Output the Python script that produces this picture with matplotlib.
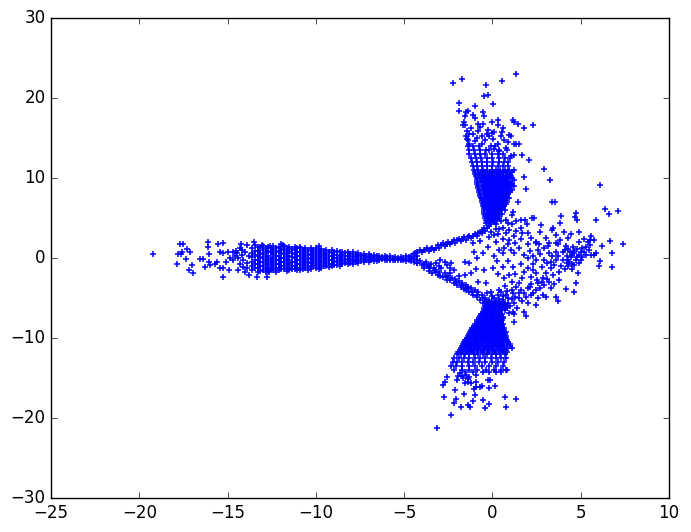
import matplotlib
matplotlib.use("Agg")
import matplotlib.pyplot as plt

# значения, оценка на глаз
# левый кончик: отдельные точки
left_tip = [
    (-19.2, .46), (-17.69, 1.75), (-17.54, 1.75), (-17.82, .5), (-17.6, .71), (-17.65, .46),
    (-17.27, 1.13), (-17.12, .79), (-17.37, -.13), (-17.84, -.75), (-17, -.88), (-17.16, -1.5),
    (-16.93, -1.92), (-16.56, -.13), (-16.4, -.13), (-16.09, 1.96), (-16.09, 1.42), (-16.05, .46),
    (-16.05, -.46), (-16, -.88), (-16.28, -1.17), (-15.54, 1.75), (-15.24, 1.83), (-15.43, .71),
    (-15.24, .58), (-15.58, -.46), (-15.71, -.75), (-15.43, -1.29), (-15.24, -1.29), (-15.24, -2.42),
    (-14.9, -1.5), (-14.96, .79), (-14.71, .79), (-15.09, -.46), (-14.86, -.04), (-14.49, .58),
    (-14.4, -.04), (-14.67, -.25), (-14.22, 1.75), (-13.92, 1.63), (-13.49, 2.04), (-13.45, 1.63),
    (-14.2, 1), (-14.1, -.25), (-13.92, -1.29), (-13.77, -2.13), (-13.32, -2.42), (-12.75, -2.33),
    (-12.64, -1.71), (-13.07, 1.63), (-12.6, 1.54), (-11.85, 1.63), (-10.9, 1.42), (-9.83, 1.5),
    (-14.5, .9), (-14.3, -.7), (-14.6, .3), (-14.2, .4), (-14, .7), (-13.9, -.6), (-14.1, -1.1),
    (-14.4, -1.5), (-14.0, -1.8), (-13.8, .2), (-14.3, 1.3),
]

# левое плечо: столбцы (x, значения y)
left_body = [
    (-13.6, [1.2, .6, .1, -.5, -1.0, -1.5]), (-13.45, [.9, .35, -.2, -.75, -1.25]),
    (-13.3, [1.4, .9, .3, -.2, -.8, -1.3, -1.7]), (-13.15, [1.2, .65, .1, -.5, -1.05, -1.6]),
    (-13.0, [1.5, 1.0, .5, 0, -.5, -1.0, -1.5]), (-12.85, [1.2, .75, .25, -.25, -.75, -1.25, -1.7]),
    (-12.7, [1.4, .9, .3, -.2, -.7, -1.2, -1.6]), (-12.55, [1.25, .7, .05, -.45, -.95, -1.4]),
    (-12.4, [1.5, 1.0, .5, 0, -.5, -1.0, -1.5]), (-12.25, [1.25, .75, .25, -.25, -.75, -1.25, -1.7]),
    (-12.1, [1.4, .9, .3, -.2, -.7, -1.2, -1.5]), (-11.95, [1.7, 1.15, .65, .05, -.45, -.95, -1.35]),
    (-11.8, [1.5, 1.0, .5, 0, -.5, -1.0, -1.4]), (-11.65, [1.25, .75, .25, -.25, -.75, -1.2, -1.6]),
    (-11.5, [1.4, .9, .3, -.2, -.7, -1.2, -1.5]), (-11.35, [1.15, .65, .1, -.45, -.95, -1.35]),
    (-11.2, [1.4, 1.0, .5, 0, -.5, -1.0, -1.4]), (-11.05, [1.2, .75, .25, -.25, -.75, -1.2, -1.55]),
    (-10.9, [1.3, .8, .3, -.2, -.7, -1.2, -1.5]), (-10.75, [1.05, .55, .05, -.45, -.95, -1.35]),
    (-10.6, [1.2, .7, .2, -.3, -.8, -1.3]), (-10.45, [1.05, .55, .05, -.45, -.95, -1.45]),
    (-10.3, [1.3, .9, .4, -.1, -.6, -1.1, -1.4]), (-10.15, [1.0, .45, -.05, -.55, -1.0]),
    (-10.0, [1.2, .7, .2, -.3, -.8, -1.2]), (-9.85, [.95, .45, -.05, -.55, -1.0, -1.35]),
    (-9.7, [1.1, .6, .1, -.4, -.9, -1.2]), (-9.55, [.85, .35, -.15, -.65, -1.05]),
    (-9.4, [1.0, .5, 0, -.5, -1.0]), (-9.25, [.8, .3, -.2, -.7, -1.15]),
    (-9.1, [1.0, .6, .2, -.3, -.7, -1.0]), (-8.95, [.8, .4, 0, -.5, -.85]),
    (-8.8, [.9, .4, 0, -.4, -.9]), (-8.65, [.7, .2, -.2, -.6, -.95]),
    (-8.5, [.8, .4, 0, -.4, -.8]), (-8.35, [.6, .2, -.2, -.6]),
    (-8.2, [.8, .3, -.1, -.5, -.8]), (-8.05, [.55, .1, -.3, -.65]),
    (-7.9, [.7, .3, -.1, -.4, -.7]), (-7.75, [.5, .1, -.25, -.55]),
    (-7.6, [.6, .2, -.2, -.6]), (-7.45, [.4, 0, -.35]),
    (-7.3, [.5, .2, -.1, -.5]), (-7.15, [.3, 0, -.3]),
    (-7.0, [.45, .1, -.2, -.45]), (-6.85, [.25, -.05, -.3]),
    (-6.7, [.4, .1, -.15, -.4]), (-6.55, [.2, -.1, -.35]),
    (-6.4, [.3, 0, -.3]), (-6.25, [.15, -.15]),
    (-6.1, [.25, 0, -.3]), (-5.95, [.1, -.2]),
    (-5.8, [.2, -.1, -.3]), (-5.65, [.05, -.2]),
    (-5.5, [.15, -.1, -.3]), (-5.35, [0, -.25]),
    (-5.2, [.1, -.15, -.3]), (-5.05, [0, -.25]),
    (-4.9, [.2, -.1, -.35]), (-4.75, [.1, -.25]),
    (-4.6, [.3, 0, -.4]), (-4.45, [.45, .15, -.15, -.5]),
    (-4.3, [.6, .3, -.3, -.6]),
]

# верхняя ветвь от центра к вершине
upper_branch = [
    (-4.1, 1), (-4.0, .7), (-3.9, 1.0), (-3.7, 1.2), (-3.6, .9), (-3.4, 1.3), (-3.3, 1.0), (-3.1, 1.6),
    (-3.0, 1.3), (-2.8, 1.9), (-2.7, 1.5), (-2.5, 2.0), (-2.4, 1.7), (-2.2, 2.2), (-2.1, 1.9), (-1.9, 2.4),
    (-1.8, 2.1), (-1.6, 2.6), (-1.5, 2.3), (-1.3, 2.7), (-1.2, 2.5), (-1.0, 3.0), (-.9, 2.8), (-.7, 3.3),
    (-.6, 3.1), (-.5, 3.8), (-.4, 3.4), (-.35, 4.4), (-.2, 4.0), (-3.5, 1.1), (-3.2, 1.3), (-2.9, 1.6),
    (-2.6, 1.8), (-2.3, 2.0), (-2.0, 2.2), (-1.7, 2.4), (-1.4, 2.6), (-1.1, 2.8), (-.8, 3.1), (-.55, 3.5),
    (-4.4, .6), (-4.25, .8), (-3.8, .95), (-.3, 3.7), (-.1, 4.3),
]

# нижняя ветвь от центра к вершине
lower_branch = [
    (-4.3, -.6), (-4.1, -.4), (-4.0, -.9), (-3.9, -1.3), (-3.75, -.46), (-3.7, -1.0), (-3.6, -1.6), (-3.47, -.75),
    (-3.4, -1.9), (-3.3, -1.2), (-3.28, -1.5), (-3.1, -2.1), (-3.0, -1.7), (-2.99, -.25), (-2.9, -1.29), (-2.8, -2.4),
    (-2.71, -.46), (-2.7, -1.9), (-2.6, -2.7), (-2.5, -2.2), (-2.43, -1.29), (-2.43, -1.92), (-2.4, -2.8), (-2.34, -.58),
    (-2.2, -3.1), (-2.1, -2.6), (-2.0, -3.4), (-1.9, -2.9), (-1.8, -3.6), (-1.7, -3.1), (-1.6, -3.9), (-1.5, -4.0),
    (-1.5, -3.4), (-1.4, -3.6), (-1.3, -4.3), (-1.2, -3.8), (-1.1, -4.6), (-1.0, -4.0), (-.9, -4.9), (-.8, -4.3),
    (-.7, -5.2), (-.6, -4.6), (-.55, -5.6), (-.4, -5.0), (-.3, -4.4), (-.2, -5.2), (0, -4.8), (.2, -5.4),
    (-.1, -5.7), (.3, -4.6), (.5, -4.2), (-3.85, -.7), (-3.55, -1.3), (-3.2, -1.8), (-2.95, -2.2), (-2.65, -2.35),
    (-2.3, -2.5), (-2.05, -3.0), (-1.75, -3.4), (-1.45, -3.8), (-1.15, -4.2), (-.85, -4.6), (-.55, -5.0), (-.3, -5.5),
    (-3.6, -.9), (-3.2, -.6), (-3.05, -1.0), (-2.6, -.9), (-2.2, -1.5), (-1.9, -2.2), (-.1, -4.2), (.1, -5.0), (.4, -5.1),
]

# плотная часть верхнего плеча: строки (y, значения x)
upper_rows = [
    (4.5, [-.3, -.1, .1]), (4.75, [-.35, -.15, .05, .25]), (5.0, [-.4, -.2, 0, .2, .35]), (5.25, [-.4, -.25, -.05, .15, .35]),
    (5.5, [-.45, -.3, -.1, .1, .3, .55]), (5.75, [-.45, -.2, 0, .2, .4]), (6.0, [-.5, -.3, -.1, .1, .3, .5, .7]),
    (6.25, [-.5, -.2, 0, .2, .4, .6]), (6.5, [-.55, -.35, -.15, .05, .25, .45, .65]), (6.75, [-.55, -.25, -.05, .15, .35, .55, .75]),
    (7.0, [-.6, -.4, -.2, 0, .2, .4, .6, .8]), (7.25, [-.6, -.3, -.1, .1, .3, .5, .7]), (7.5, [-.65, -.45, -.25, -.05, .15, .35, .55, .75, .95]),
    (7.75, [-.7, -.35, -.15, .05, .25, .45, .65, .85]), (8.0, [-.7, -.5, -.3, -.1, .1, .3, .5, .7, .9]), (8.25, [-.75, -.4, -.2, 0, .2, .4, .6, .8, 1.0]),
    (8.5, [-.75, -.55, -.35, -.15, .05, .25, .45, .65, .85, 1.1]), (8.75, [-.8, -.45, -.25, -.05, .15, .35, .55, .75, .95]),
    (9.0, [-.8, -.6, -.4, -.2, 0, .2, .4, .6, .8, 1.0, 1.2]), (9.25, [-.85, -.5, -.3, -.1, .1, .3, .5, .7, .9, 1.1]),
    (9.5, [-.85, -.65, -.45, -.25, -.05, .15, .35, .55, .75, 1.0]), (9.75, [-.9, -.55, -.35, -.15, .05, .25, .45, .65, .85, 1.2]),
    (10.0, [-.9, -.7, -.5, -.3, -.1, .1, .3, .5, .7, .9, 1.1]), (10.25, [-.95, -.6, -.4, -.2, 0, .2, .4, .6, .8, 1.05]),
    (10.5, [-1.0, -.75, -.5, -.25, 0, .25, .5, .75, 1.0]), (10.75, [-1.0, -.65, -.4, -.15, .1, .35, .6, .85, 1.1]),
    (11.0, [-1.05, -.8, -.55, -.3, -.05, .2, .45, .7, .95, 1.2]),
    (11.5, [-1.1, -.85, -.6, -.3, 0, .3, .6, .9]),
    (12.0, [-1.15, -.9, -.6, -.3, .05, .35, .65, .9]),
    (12.5, [-1.2, -.95, -.65, -.3, 0, .35, .7, 1.0]),
    (13.0, [-1.3, -1.0, -.7, -.4, -.05, .3, .6]),
    (13.5, [-1.35, -1.05, -.7, -.35, .4, .8]), (14.0, [-1.4, -1.1, -.75, -.1, .15]),
]

upper_sparse = [
    (1.32, 22.96), (-2.24, 21.83), (-1.73, 22.33), (-.38, 21.58), (.53, 22.08), (-.26, 20.37), (-.45, 20.25),
    (-1.9, 19.33), (-1, 19), (.02, 19.25), (-1.87, 18.37), (-1.49, 18.3), (-1.4, 18.4), (-.55, 18.3), (-.49, 17.75),
    (-1.11, 17.9), (-.96, 17.5), (-1.58, 17.7), (-1.62, 17.05), (-1.55, 16.6), (-1.68, 16.6), (-.83, 16.8),
    (-.73, 16.4), (-.51, 16.75), (-.02, 17), (.3, 17.25), (.32, 16.6), (.58, 16.2), (.55, 15.8), (1.15, 17.25),
    (1.24, 16.95), (1.47, 16.7), (1.77, 16.3), (2.28, 16.6), (-1.2, 16.2), (-.83, 15.9), (-1.43, 15.9), (-.26, 16),
    (.11, 15.8), (-.32, 15.5), (.96, 15.4), (1.05, 15.25), (-1.39, 14.75), (-1.3, 14.3), (-.88, 15), (-.4, 14.75),
    (-.2, 15.25), (.3, 14.3), (.64, 14.75), (1.2, 14.2), (1.5, 14.3), (.77, 13.8), (1.34, 14.2), (.11, 13.6),
    (-.17, 13.5), (.4, 13.4), (1.24, 12.9), (1.66, 12.9), (1.05, 12.7), (2.05, 12.25), (2.9, 11.08), (3.24, 9.75),
    (1.77, 10.15), (1.88, 8.6), (1.43, 7.04), (1.19, 5.8), (1.11, 5.4), (-1.5, 15.2), (-1.45, 14.9), (-1.35, 15.5),
    (-.6, 15.3), (-.6, 14.3), (.05, 14.9), (.5, 15.3), (.9, 14.5), (-.05, 15.6), (-1.1, 15.5), (-1.0, 14.6),
]

# правое облако (разреженная часть)
right_cloud = [
    (6.12, 9.08), (3.35, 6.96), (3.52, 7.04), (6.35, 6.08), (6.63, 5.5), (7.09, 5.9), (4.73, 5.58), (4.67, 5.08),
    (4.79, 4.75), (3.86, 5.25), (3.8, 4.4), (5.86, 4.75), (2.22, 4.96), (2.34, 4.96), (1.87, 4.75), (1.62, 4.75),
    (1.34, 4.65), (.77, 4.75), (1.96, 4.25), (2.73, 4.1), (2.69, 3.3), (3.41, 3.7), (3.37, 3.5), (4.03, 3.2),
    (4.43, 3), (4.88, 3.3), (.96, 3.5), (1.34, 3.4), (1.68, 3.1), (1.24, 2.7), (.77, 3.1), (3.03, 2.45), (3.6, 2.9),
    (5.58, 2.8), (5.2, 2.35), (5.39, 2.05), (5.77, 2.25), (6.67, 2.15), (7.37, 1.75), (4.26, 2.45), (2.47, 1.9),
    (2.66, 1.8), (3.22, 1.9), (3.6, 1.9), (3.13, 1.5), (4.54, 1.4), (5.3, 1.4), (6.18, 1.5), (4.16, 1.5), (.2, 2.05),
    (-.73, 2.1), (-1.1, 1.9), (-.26, 1.4), (.68, 1.2), (2, 1.8), (.4, 3.6), (.1, 2.9), (-.2, 2.6), (.6, 2.4), (.2, 4.2),
    (6.75, .58), (6.75, -1.08), (6.09, -.33), (6.05, -1), (5.86, .58), (5.77, .38), (5.48, 1), (5.3, .38), (5, .8),
    (4.92, .38), (4.64, .58), (4.45, .17), (4.35, -.46), (4.73, -.25), (4.64, -.88), (4.26, -1), (4.82, -1.92),
    (4.73, -3.17), (4.16, -3.92), (4.6, -4.3), (3.6, -4.83), (3.69, -5.33), (3.98, -.25), (3.98, .8), (3.6, .8),
    (3.69, 1.75), (3.22, .58), (2.94, -.25), (3.6, -.25), (2.47, 2), (2.56, 1), (2.47, -.25), (2, -.04), (1.24, .58),
    (1.05, 1), (.58, .58), (.25, -.33), (-.55, .58), (-1.02, .8), (-.89, -.04), (-1.58, -.46), (-1.3, -.67),
    (-.92, -1.42), (-.45, -1.5), (.02, -1.3), (1.15, -1.08), (.3, -2), (.68, -2.54), (.96, -2.12), (1.53, -3.17),
    (2, -1.29), (2.28, -1.5), (2.47, -1.92), (2.85, -2.54), (3.22, -2.96), (3.41, -2.12), (3.79, -1.71), (3.79, -2.75),
    (3.5, -.88), (3.03, -1.92), (2.56, -3.17), (2, -3.79), (2.47, -4), (2.19, -4.63), (2.85, -4.63), (3.03, -4.83),
    (2.56, -5), (2, -5.67), (2.47, -5.88), (1.81, -6.71), (1.9, -7.2), (1.2, -8.04), (1.15, -6.71), (.96, -6.92),
    (1.24, -5.67), (1.53, -5), (.58, -5.25), (.77, -4.63), (.4, -4), (1.15, -4.42), (1.81, -4.42), (1.34, -3.6),
    (-.36, -3.17), (-.83, -2.96), (-1.2, -1.92), (-1.53, -2.12), (4.4, .8), (4.2, .2), (4.9, -.6), (5.1, .1), (4.5, -1.4),
    (5.6, .4), (3.3, -1.2), (2.8, -1.1), (2.3, -.8), (1.7, -2.5), (1.1, -3), (.7, -3.5), (1.6, -4), (2.2, -3.3),
    (2.9, -3.4), (3.3, -3.8), (.9, -5.6), (1.4, -6.2), (.8, -6.2), (.6, -7.4), (1.1, -5.1),
    # гуще: скопления справа и у центра
    (4.1, 1), (4.3, 1.1), (4.6, .9), (4.8, 1.1), (5.1, 1.3), (5.5, 1.6), (5.2, .8), (4.5, .4), (4.8, .1), (5.0, -.3),
    (4.3, -.2), (4.5, -.7), (4.2, -.6), (3.9, -1.0), (4.1, -1.4), (3.7, .3), (3.4, .2), (3.1, -.6), (3.3, -.5), (2.7, .5),
    (2.3, .3), (2.1, .9), (1.8, .4), (1.5, 1.3), (1.3, 1.9), (.9, 1.8), (.4, 1.0), (.1, .3), (.9, -.4), (.6, -1.1),
    (1.6, -.8), (1.8, -1.7), (1.3, -2), (2.5, -2.8), (2.2, -2.4), (3.1, -2.6), (3.5, -3.3), (2.7, -3.8), (2.3, -4.4),
    (1.9, -4.9), (1.7, -5.4), (1.1, -4.0), (.8, -4.1), (1.3, -4.9), (.9, -5.0), (.6, -4.8), (2.8, -3.0), (2.1, -3.6),
    (1.5, -4.4), (1.0, -6.0), (.7, -5.7), (1.2, -7.0), (.3, 3.0), (.6, 3.8), (1.1, 4.2), (.5, 4.6), (.9, 4.4), (1.6, 3.7),
    (2.0, 3.1), (.2, 3.6), (-.1, 3.2), (.95, 2.3), (1.6, 2.4), (2.2, 2.5), (2.9, 1.2), (3.8, 2.3), (4.9, 2.0), (5.5, 2.2),
]

# плотная часть нижнего плеча: строки (y, значения x)
lower_rows = [
    (-5.5, [-.4, -.2, 0, .2, .4, .6]), (-5.75, [-.3, -.1, .1, .3, .5]), (-6.0, [-.4, -.2, 0, .2, .4, .6, .8]),
    (-6.25, [-.45, -.25, -.05, .15, .35, .55]), (-6.5, [-.5, -.3, -.1, .1, .3, .5, .7]), (-6.75, [-.55, -.35, -.15, .05, .25, .45]),
    (-7.0, [-.65, -.45, -.25, -.05, .15, .35, .55]), (-7.25, [-.7, -.5, -.3, -.1, .1, .3, .5]),
    (-7.5, [-.75, -.55, -.35, -.15, .05, .25, .45, .6]), (-7.75, [-.85, -.65, -.45, -.25, -.05, .15, .35, .55]),
    (-8.0, [-.9, -.7, -.5, -.3, -.1, .1, .3, .5]), (-8.25, [-1.0, -.8, -.6, -.4, -.2, 0, .2, .4, .6]),
    (-8.5, [-1.05, -.85, -.65, -.45, -.25, -.05, .15, .35, .55]), (-8.75, [-1.15, -.95, -.75, -.55, -.35, -.15, .05, .25, .45, .65]),
    (-9.0, [-1.2, -1.0, -.8, -.6, -.4, -.2, 0, .2, .4, .6]), (-9.25, [-1.25, -1.05, -.85, -.65, -.45, -.25, -.05, .15, .35, .55, .75]),
    (-9.5, [-1.3, -1.1, -.9, -.7, -.5, -.3, -.1, .1, .3, .5, .7]), (-9.75, [-1.4, -1.2, -1.0, -.8, -.6, -.4, -.2, 0, .2, .4, .6, .75]),
    (-10.0, [-1.45, -1.25, -1.05, -.85, -.65, -.45, -.25, -.05, .15, .35, .55, .75]), (-10.25, [-1.55, -1.35, -1.15, -.95, -.75, -.55, -.35, -.15, .05, .25, .45, .65, .85]),
    (-10.5, [-1.6, -1.4, -1.2, -1.0, -.8, -.6, -.4, -.2, 0, .2, .4, .6, .9]), (-10.75, [-1.65, -1.45, -1.25, -1.05, -.85, -.65, -.3, -.05, .15, .35, .55, .8, 1.0]),
    (-11.0, [-1.75, -1.55, -1.35, -1.15, -.95, -.75, -.55, -.35, -.15, .05, .25, .45, .65, 1.0]), (-11.25, [-1.8, -1.6, -1.4, -1.2, -1.0, -.8, -.5, -.25, 0, .3, .55, .85, 1.1]),
    (-11.5, [-1.85, -1.65, -1.45, -1.25, -1.05, -.85, -.65, -.45, -.25, -.05, .15, .35, .55, .75]), (-11.75, [-1.95, -1.7, -1.4, -1.15, -.9, -.55, -.2, .1, .4, .65, .85]),
    (-12.0, [-2.0, -1.8, -1.55, -1.3, -1.05, -.8, -.55, -.3, -.05, .2, .45, .7]),
    (-12.5, [-2.15, -1.9, -1.6, -1.3, -1.0, -.7, -.4, -.1, .2, .5, .75]),
    (-13.0, [-2.25, -2.0, -1.7, -1.4, -1.1, -.75, -.4, -.05, .3, .65]),
    (-13.5, [-2.35, -2.05, -1.7, -1.35, -1.0, -.6, -.2, .2, .6]),
    (-14.0, [-2.15, -1.75, -1.3, -.85, -.35, .1, .5, .8]),
]

lower_sparse = [
    (-3.15, -21.29), (-2.36, -19.6), (-2.75, -17.4), (-2.13, -16.5), (-1.62, -17), (-2.05, -17.67), (-2.15, -18.08),
    (-1.79, -18.67), (-1.36, -18.4), (-1.26, -18.58), (-1.11, -17.9), (-1, -17.13), (-.55, -17.8), (-.21, -18.25),
    (-.43, -18.8), (.75, -18.67), (.72, -17.4), (1.32, -17.67), (-1.02, -16.4), (-2.81, -15.88), (-2.71, -15.46),
    (-2.56, -14.9), (-2, -15.25), (-1.58, -15.67), (-1.68, -15), (-1.39, -15.46), (-.92, -15.46), (-.73, -16.08),
    (-.92, -16.08), (-.6, -15.96), (-.17, -16.29), (.15, -16), (-.26, -15.25), (-.13, -15.25), (-1.2, -15.67),
    (-1.86, -14.4), (-1.49, -14.6), (-.92, -14.6), (-.55, -14.2), (-.17, -14.3), (.2, -14.2), (.49, -14.2), (.77, -14),
    (-1.7, -14.8), (-1.3, -14.9), (-1.95, -14.7), (-1.55, -14.2), (-1.1, -14.3), (-1.4, -15.1),
]

x_ticks = [-25, -20, -15, -10, -5, 0, 5, 10]
y_ticks = [-30, -20, -10, 0, 10, 20, 30]


def collect():
    xs, ys = [], []
    for pts in (left_tip, upper_branch, lower_branch, upper_sparse, right_cloud, lower_sparse):
        for x, y in pts:
            xs.append(x)
            ys.append(y)
    for x, col in left_body:
        for y in col:
            xs.append(x)
            ys.append(y)
    for rows in (upper_rows, lower_rows):
        for y, row in rows:
            for x in row:
                xs.append(x)
                ys.append(y)
    return xs, ys


def main():
    plt.style.use("classic")
    fig = plt.figure(figsize=(6.91, 5.32), dpi=100, facecolor="white")
    ax = fig.add_axes([51 / 691, 34 / 532, 618 / 691, 480 / 532])
    xs, ys = collect()
    ax.scatter(xs, ys, marker="+", s=22, color="b", linewidths=1.1)
    ax.set_xlim(-25, 10)
    ax.set_ylim(-30, 30)
    ax.set_xticks(x_ticks)
    ax.set_yticks(y_ticks)
    fig.savefig("out.png", dpi=100, facecolor="white")
    plt.close(fig)


if __name__ == "__main__":
    main()
